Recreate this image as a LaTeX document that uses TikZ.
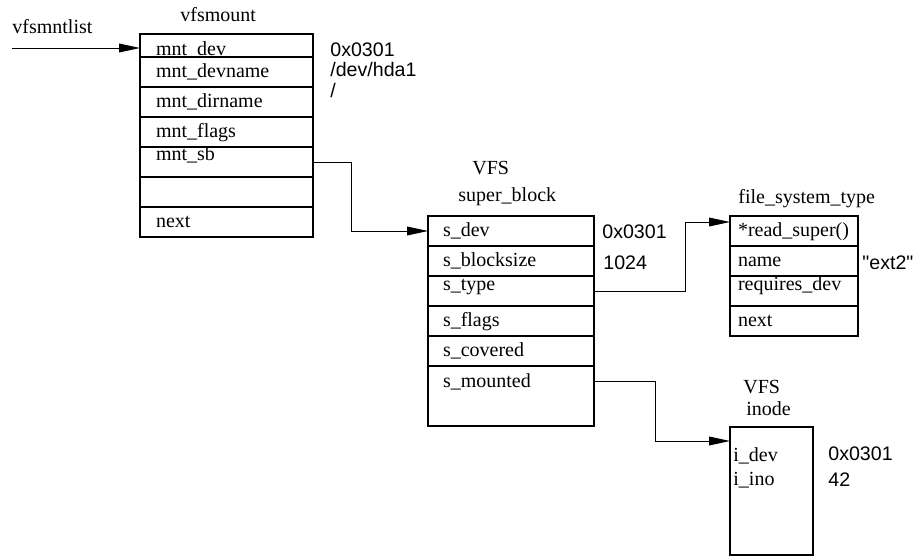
\documentclass[tikz,border=0pt]{standalone}
\usepackage{fontspec}
\setmainfont{Liberation Serif}
\newfontfamily\valfont{Liberation Sans}
\usetikzlibrary{positioning,arrows.meta}
\tikzset{val/.style={font=\valfont\fontsize{9.8}{12}\selectfont, anchor=base west, inner sep=0pt}}

\begin{document}
\begin{tikzpicture}[
    x=0.5pt, y=-0.5pt,
    >={Triangle[length=10.5pt,width=4.4pt]},
    line/.style={draw, ->, line width=0.5pt},
    ttl/.style={font=\fontsize{10}{12}\selectfont, anchor=base west, inner sep=0pt},
    field/.style={
        draw,
        line width=0.6pt,
        outer sep=0pt,
        inner ysep=0pt,
        minimum height=15pt,
        text height=7pt,
        text depth=1.5pt,
        align=left,
        font=\fontsize{10}{12}\selectfont
    },
    ptrfield/.style={text depth=8pt},
    mntfield/.style={field, text width=70.5pt, inner xsep=8pt},
    sbfield/.style={field, text width=68pt, inner xsep=7.5pt},
    fsfield/.style={field, text width=56pt, inner xsep=4pt}
]
\useasboundingbox (0,0) rectangle (918,557);
% vfsmount
\node[ttl] (mnttitle) at (180,21.5) {vfsmount};
\node[mntfield, anchor=north west, minimum height=11.5pt, text height=10.5pt, text depth=1pt] (mntdev) at (140,34) {mnt\_dev};
\node[mntfield, below=0pt of mntdev] (mntdevname) {mnt\_devname};
\node[mntfield, below=0pt of mntdevname] (mntdirname) {mnt\_dirname};
\node[mntfield, below=0pt of mntdirname] (mntflags) {mnt\_flags};
\node[mntfield, ptrfield, below=0pt of mntflags] (mntsb) {mnt\_sb};
\node[mntfield, below=0pt of mntsb] (mntspare) {};
\node[mntfield, below=0pt of mntspare] (mntnext) {next};
\node[val] (mntdevval) at (330,56.5) {0x0301};
\node[val] (mntnameval) at (330,76.5) {/dev/hda1};
\node[val] (mntdirval) at (330,97.5) {/};
% list head
\node[ttl] (listtitle) at (12,33) {vfsmntlist};
\coordinate (listin) at (12,48);
% super_block
\node[ttl] (sbvfs) at (472,174) {VFS};
\node[ttl] (sbtitle) at (458,201) {super\_block};
\node[sbfield, anchor=north west] (sdev) at (428,216) {s\_dev};
\node[sbfield, below=0pt of sdev] (sblocksize) {s\_blocksize};
\node[sbfield, ptrfield, below=0pt of sblocksize] (stype) {s\_type};
\node[sbfield, below=0pt of stype] (sflags) {s\_flags};
\node[sbfield, below=0pt of sflags] (scovered) {s\_covered};
\node[sbfield, minimum height=30pt, text depth=16pt, below=0pt of scovered] (smounted) {s\_mounted};
\node[val] (sdevval) at (602,238) {0x0301};
\node[val] (sbsizeval) at (603,269) {1024};
% file_system_type
\node[ttl] (fstitle) at (738,203) {file\_system\_type};
\node[fsfield, anchor=north west] (readsuper) at (730,216) {*read\_super()};
\node[fsfield, below=0pt of readsuper] (fsname) {name};
\node[fsfield, ptrfield, below=0pt of fsname] (reqdev) {requires\_dev};
\node[fsfield, below=0pt of reqdev] (fsnext) {next};
\node[val] (fsnameval) at (862,270) {"ext2"};
% inode
\node[ttl] (inovfs) at (743,393) {VFS};
\node[ttl] (inotitle) at (746,415) {inode};
\node[draw, line width=0.6pt, outer sep=0pt, anchor=north west, minimum width=41.5pt, minimum height=64pt] (inode) at (730,427) {};
\node[ttl] (idev) at (733,461) {i\_dev};
\node[ttl] (iino) at (733,485) {i\_ino};
\node[val] (idevval) at (828,460) {0x0301};
\node[val] (iinoval) at (828,486.5) {42};
% pointers
\draw[line] (listin) -- (listin -| mntdev.west);
\draw[line] (mntsb.east) -- ++(38,0) |- (sdev.west);
\draw[line] (stype.east) -- ++(91,0) |- ([yshift=4.5pt]readsuper.west);
\draw[line] ([yshift=7.5pt]smounted.east) -- ++(61,0) |- ([yshift=-7pt]inode.north west);
\end{tikzpicture}
\end{document}
